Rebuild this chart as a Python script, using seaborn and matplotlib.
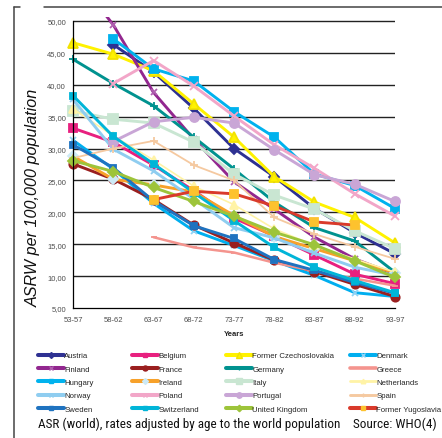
import numpy as np
import pandas as pd
import matplotlib
matplotlib.use("Agg")
import matplotlib.pyplot as plt
from matplotlib.lines import Line2D
from matplotlib import font_manager
import seaborn as sns

# Five-year periods on the x axis
periods = ["53-57", "58-62", "63-67", "68-72", "73-77", "78-82", "83-87", "88-92", "93-97"]
yticks = [5, 10, 15, 20, 25, 30, 35, 40, 45, 50]

# Age-standardised rates (world population) per 100,000, by country
austria = [None, 46.3, 42.0, 36.3, 30.0, 25.6, 20.6, 16.8, 13.5]
belgium = [33.2, 31.0, 27.4, 23.4, 19.1, 16.3, 13.3, 10.3, 8.8]
czechoslovakia = [46.6, 44.8, 42.2, 37.0, 31.8, 25.6, 21.6, 19.2, 15.2]
denmark = [31.3, 26.8, 21.4, 17.1, 14.8, 12.4, 10.1, 7.4, 6.8]
finland = [57.5, 49.4, 38.8, 31.5, 24.8, 20.5, 16.1, 12.7, 10.3]
france = [27.6, 25.2, 22.0, 18.0, 15.2, 12.5, 10.7, 8.7, 6.8]
germany = [44.0, 40.2, 36.7, 31.8, 26.8, 21.6, 17.6, 15.5, 10.6]
greece = [None, None, 16.1, 14.5, 13.7, 12.1, 10.8, 9.6, 8.5]
hungary = [None, 47.2, 42.5, 40.6, 35.8, 31.8, 26.0, 24.2, 20.6]
ireland = [28.8, 25.2, 24.3, 23.2, 19.5, 16.2, 14.3, 12.4, 10.5]
italy = [35.9, 34.6, 34.0, 31.0, 26.0, 22.7, 20.5, 17.1, 14.3]
netherlands = [36.2, 32.0, 28.2, 24.1, 21.2, 17.4, 14.8, 12.7, 10.6]
norway = [37.7, 29.9, 26.5, 22.1, 17.6, 16.0, 13.6, 11.4, 10.1]
poland = [None, 40.2, 43.8, 39.8, 35.1, 30.6, 26.9, 22.9, 19.4]
portugal = [None, 31.1, 34.2, 34.9, 34.0, 29.8, 25.9, 24.4, 21.7]
spain = [28.5, 30.0, 31.2, 27.4, 25.0, 19.2, 16.6, 14.6, 12.7]
sweden = [30.6, 27.0, 21.8, 17.9, 15.9, 12.6, 10.9, 9.0, 7.3]
switzerland = [38.3, 31.9, 27.6, 23.1, 18.7, 14.5, 11.4, 9.3, 7.4]
united_kingdom = [28.1, 26.4, 23.9, 21.7, 19.4, 16.9, 14.9, 12.4, 9.8]
yugoslavia = [None, None, 22.0, 23.3, 22.9, 21.0, 18.5, 18.0, None]

countries = ["Austria", "Belgium", "Former Czechoslovakia", "Denmark",
             "Finland", "France", "Germany", "Greece",
             "Hungary", "Ireland", "Italy", "Netherlands",
             "Norway", "Poland", "Portugal", "Spain",
             "Sweden", "Switzerland", "United Kingdom", "Former Yugoslavia"]
values = [austria, belgium, czechoslovakia, denmark,
          finland, france, germany, greece,
          hungary, ireland, italy, netherlands,
          norway, poland, portugal, spain,
          sweden, switzerland, united_kingdom, yugoslavia]

# line colour, marker, marker face, marker edge, marker size, line width
styles = {
    "Austria": ("#2E3192", "D", "#2E3192", "#2E3192", 5, 2.1),
    "Belgium": ("#E8207F", "s", "#E8207F", "#E8207F", 5.5, 2.1),
    "Former Czechoslovakia": ("#FFF200", "^", "#FFF200", "#F2E200", 6.5, 2.1),
    "Denmark": ("#00AEEF", "x", "#8FD3F5", "#8FD3F5", 5, 2.1),
    "Finland": ("#92278F", "x", "#92278F", "#B060B0", 5, 2.1),
    "France": ("#9A1F1F", "o", "#9A1F1F", "#9A1F1F", 6, 2.1),
    "Germany": ("#00928F", "+", "#00928F", "#00928F", 6, 2.1),
    "Greece": ("#F4948E", "_", "#F4948E", "#F4948E", 5, 1.8),
    "Hungary": ("#00B2EE", "s", "#00B2EE", "#00B2EE", 5.5, 2.1),
    "Ireland": ("#F7A12A", "D", "#CDEAF6", "#CDEAF6", 5, 2.1),
    "Italy": ("#C9E6D2", "s", "#C9E6D2", "#C9E6D2", 7, 2.1),
    "Netherlands": ("#FFF3A6", "^", "#FFF3A6", "#FFF3A6", 5.5, 1.2),
    "Norway": ("#8FCDF0", "x", "#8FCDF0", "#8FCDF0", 5, 2.1),
    "Poland": ("#F2A6C8", "x", "#F2A6C8", "#F2A6C8", 6, 2.1),
    "Portugal": ("#C9A6D6", "o", "#C9A6D6", "#C9A6D6", 6.5, 2.1),
    "Spain": ("#F5C9A0", "+", "#F5C9A0", "#F5C9A0", 6, 1.3),
    "Sweden": ("#1F73C0", "s", "#1F73C0", "#1F73C0", 4.5, 2.1),
    "Switzerland": ("#00B5D8", "s", "#00B5D8", "#00B5D8", 5, 2.1),
    "United Kingdom": ("#9DC43A", "D", "#9DC43A", "#9DC43A", 5.5, 2.1),
    "Former Yugoslavia": ("#D93A2B", "s", "#FDC22E", "#FDC22E", 5.5, 2.1),
}

rows = []
for name, vals in zip(countries, values):
    for i, v in enumerate(vals):
        if v is not None:
            rows.append({"country": name, "period": i, "rate": v})
df = pd.DataFrame(rows)

sns.set_theme(style="white")
plt.rcParams["font.family"] = ["Liberation Sans", "DejaVu Sans"]

W, H = 442, 439
fig = plt.figure(figsize=(W / 100, H / 100), dpi=100)
ymax = 50.7
top_px = 22 - (ymax - 50) * (287 / 45)
ax = fig.add_axes([73 / W, 1 - 309 / H, (395 - 73) / W, (309 - top_px) / H])

for name in countries:
    color, mk, mfc, mec, ms, lw = styles[name]
    sub = df[df["country"] == name]
    sns.lineplot(data=sub, x="period", y="rate", ax=ax, color=color, lw=lw,
                 marker=mk, markersize=ms, markerfacecolor=mfc,
                 markeredgecolor=mec, markeredgewidth=1.3,
                 clip_on=(name == "Finland"), label=name, legend=False,
                 errorbar=None, sort=True)

ax.set_xlim(0, len(periods) - 1)
ax.set_ylim(5, ymax)
ax.set_xticks(range(len(periods)))
ax.set_xticklabels(periods)
ax.set_yticks(yticks)
ax.set_yticklabels([f"{t:.2f}".replace(".", ",") for t in yticks])
ax.tick_params(axis="both", labelsize=5.5, colors="#000000", labelcolor="#4D4D4D",
               length=3, width=0.8, direction="out", pad=2)
ax.tick_params(axis="x", pad=3)
for t in yticks[1:]:
    ax.axhline(t, color="#222222", lw=1.0, zorder=0.5)
for s in ["top", "right"]:
    ax.spines[s].set_visible(False)
for s in ["left", "bottom"]:
    ax.spines[s].set_color("#000000")
    ax.spines[s].set_linewidth(0.9)
ax.spines["left"].set_bounds(5, 50)
ax.set_xlabel("Years", fontsize=5.5, fontweight="bold", labelpad=5)
ax.set_ylabel("")
ax.patch.set_alpha(0)

fig.text(33 / W, 1 - 198 / H, "ASRW per 100,000 population", rotation=90,
         style="italic", fontsize=11.6, ha="center", va="center", color="#111111")

# legend: four fixed columns, entries laid out row by row
col_x = [38, 132, 226, 350]
for c in range(4):
    names = countries[c::4]
    hs = [Line2D([], [], color=styles[n][0], lw=styles[n][5] + 0.8,
                 marker=styles[n][1], markersize=styles[n][4] * 0.6,
                 markerfacecolor=styles[n][2], markeredgecolor=styles[n][3],
                 markeredgewidth=1.0) for n in names]
    fig.legend(hs, names, loc="upper left",
               bbox_to_anchor=(col_x[c] / W, 1 - 353 / H),
               frameon=False, fontsize=5.6, handlelength=3.3,
               handletextpad=0.1, labelspacing=0.75, borderpad=0,
               borderaxespad=0)

# footnote in a narrow face when one is installed
avail = {f.name for f in font_manager.fontManager.ttflist}
narrow = next((n for n in ["Liberation Sans Narrow", "Roboto Condensed",
                           "Open Sans Condensed", "DejaVu Sans Condensed"]
               if n in avail), "Liberation Sans")
note = fig.text(38 / W, 1 - 424 / H,
                "ASR (world), rates adjusted by age to the world population",
                fontsize=9, family=narrow, ha="left", va="center", color="#111111")
src = fig.text(437 / W, 1 - 424 / H, "Source: WHO(4)", fontsize=9, family=narrow,
               ha="right", va="center", color="#111111")
fig.canvas.draw()
r = fig.canvas.get_renderer()
wn = note.get_window_extent(r).width
note.set_fontsize(9 * 305 / wn)
ws = src.get_window_extent(r).width
src.set_fontsize(9 * 84 / ws)

# panel frame
frame_c = "#444444"
fig.add_artist(Line2D([14 / W, 14 / W], [1 - 7.5 / H, 0], color=frame_c, lw=1.1))
fig.add_artist(Line2D([14 / W, 20 / W], [1 - 7.5 / H, 1 - 7.5 / H], color=frame_c, lw=1.1))
fig.add_artist(Line2D([44 / W, 1], [1 - 7.5 / H, 1 - 7.5 / H], color=frame_c, lw=1.1))

fig.savefig("out.png", dpi=100, facecolor="white")
